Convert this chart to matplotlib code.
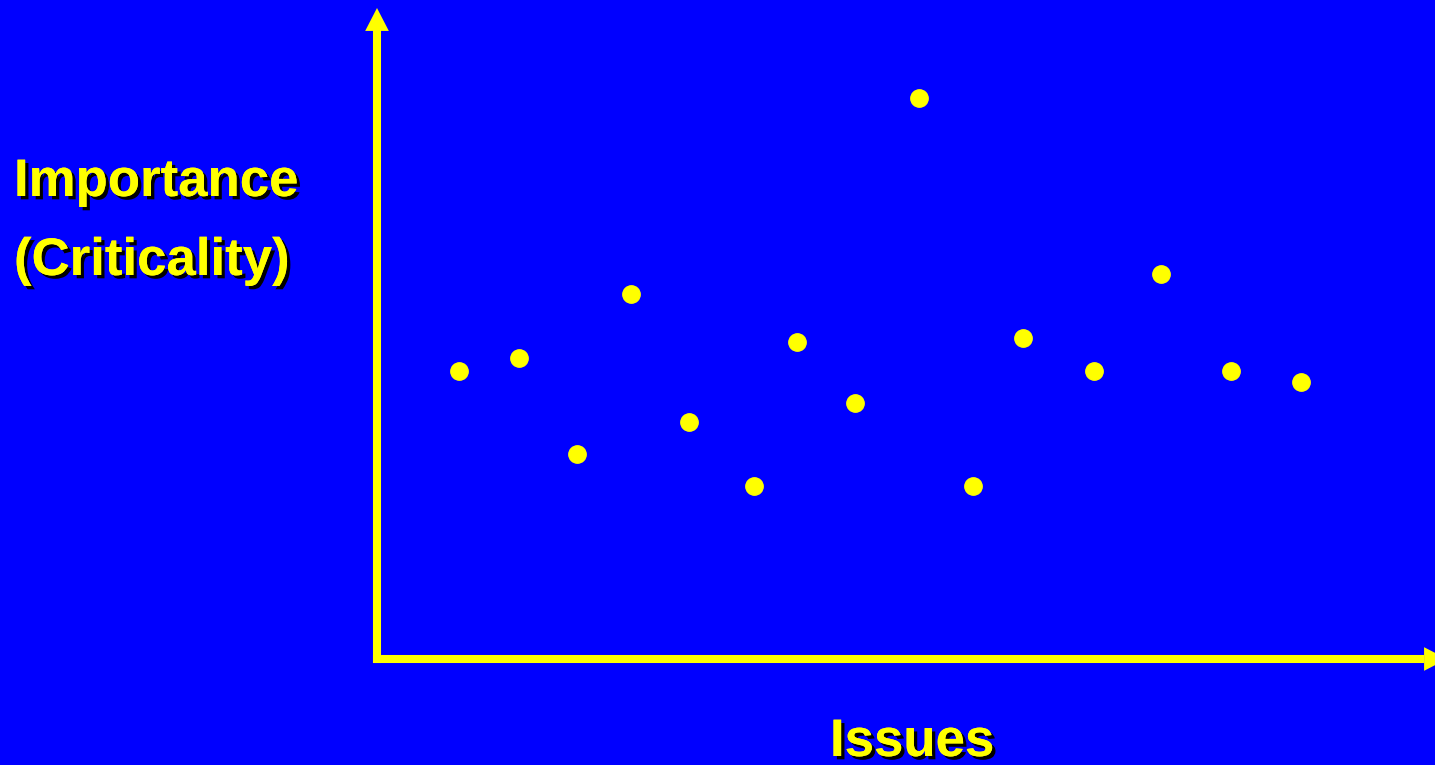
import matplotlib
matplotlib.use("Agg")
import matplotlib.pyplot as plt
import matplotlib.patheffects as pe

# issue position along the axis and its importance
issues = [1.24, 2.15, 3.03, 3.84, 4.72, 5.70, 6.35, 7.23, 8.20, 9.02, 9.77, 10.85, 11.86, 12.92, 13.98]
importance = [4.42, 4.62, 3.15, 5.61, 3.64, 2.66, 4.87, 3.93, 8.62, 2.66, 4.93, 4.42, 5.91, 4.42, 4.25]

y_label_lines = ["Importance", "(Criticality)"]
x_label = "Issues"

BLUE = "#0000ff"
YELLOW = "#ffff00"
W, H = 1435, 765
AX_W, AX_H = 1058, 651

fig = plt.figure(figsize=(W / 100, H / 100), dpi=100, facecolor=BLUE)
ax = fig.add_axes([377 / W, (H - 659) / H, AX_W / W, AX_H / H])
ax.set_facecolor(BLUE)
ax.set_xlim(0, 16)
ax.set_ylim(0, 10)
for s in ax.spines.values():
    s.set_visible(False)
ax.set_xticks([])
ax.set_yticks([])

# axis shafts
ax.plot([0, 0], [0, 1 - 20 / AX_H], color=YELLOW, lw=5.8, solid_capstyle="projecting",
        transform=ax.transAxes, clip_on=False)
ax.plot([0, 1 - 15 / AX_W], [0, 0], color=YELLOW, lw=5.8, solid_capstyle="projecting",
        transform=ax.transAxes, clip_on=False)
# arrow heads
head = dict(arrowstyle="-|>,head_length=16.5,head_width=8.5", mutation_scale=1,
            color=YELLOW, lw=0, shrinkA=0, shrinkB=0)
ax.annotate("", xy=(0, 1), xytext=(0, 0.5), xycoords="axes fraction",
            arrowprops=head, annotation_clip=False)
ax.annotate("", xy=(1 + 12 / AX_W, 0), xytext=(0.5, 0), xycoords="axes fraction",
            arrowprops=head, annotation_clip=False)

ax.plot(issues, importance, "o", color=YELLOW, markersize=12.5, clip_on=False)

shadow = [pe.withSimplePatchShadow(offset=(2.4, -2.4), shadow_rgbFace="black", alpha=1),
          pe.Normal()]
font = dict(family="Liberation Sans", fontweight="bold", fontsize=38, color=YELLOW,
            path_effects=shadow, va="baseline")
fig.text(14 / W, 1 - 196 / H, y_label_lines[0], ha="left", **font)
fig.text(14 / W, 1 - 275 / H, y_label_lines[1], ha="left", **font)
fig.text(830 / W, 1 - 756 / H, x_label, ha="left", **font)

fig.savefig("out.png", dpi=100, facecolor=BLUE)
